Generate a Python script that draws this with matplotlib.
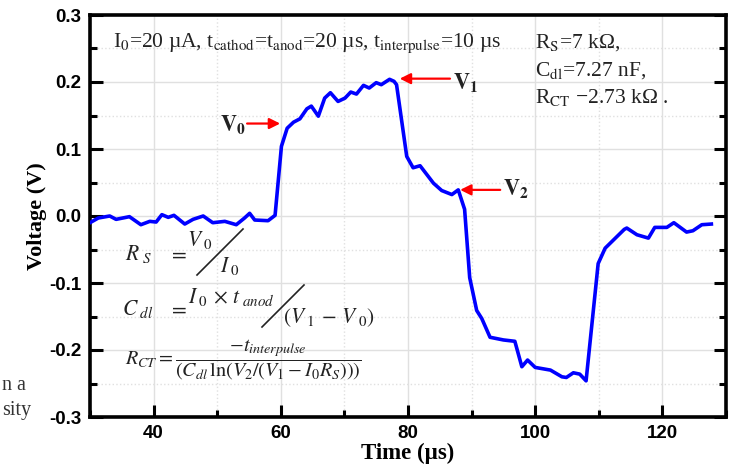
import matplotlib
matplotlib.use("Agg")
import matplotlib.pyplot as plt
from matplotlib.ticker import MultipleLocator, FormatStrFormatter
from matplotlib.lines import Line2D

plt.rcParams['mathtext.fontset'] = 'stix'

# trace
time_us = [30, 31.3, 33.1, 34.1, 36.2, 38.0, 39.4, 40.4, 41.3, 42.3, 43.2, 44.9,
           46.2, 47.8, 49.3, 51.2, 53.0, 54.3, 55.1, 55.9, 58.0, 59.1, 60.1, 61.0,
           62.0, 63.0, 64.1, 64.8, 65.9, 66.9, 67.8, 69.0, 70.1, 71.0, 71.9, 73.0,
           73.9, 75.0, 75.8, 77.1, 77.8, 78.2, 79.8, 80.8, 81.9, 84.0, 85.3, 86.9,
           87.9, 88.9, 89.7, 90.8, 91.6, 92.9, 95.0, 96.8, 97.9, 98.8, 100.0, 102.4,
           104.2, 104.9, 106.0, 107.0, 108.0, 109.9, 111.0, 112.5, 114.0, 114.4,
           116.0, 117.8, 118.8, 120.7, 121.8, 123.8, 124.8, 126.2, 127.7]
voltage = [-0.010, -0.003, 0.000, -0.005, -0.001, -0.013, -0.008, -0.009, 0.002,
           -0.002, 0.001, -0.012, -0.005, 0.000, -0.010, -0.008, -0.013, -0.003,
           0.004, -0.006, -0.007, 0.001, 0.104, 0.131, 0.140, 0.145, 0.160, 0.164,
           0.149, 0.176, 0.184, 0.171, 0.176, 0.185, 0.182, 0.195, 0.191, 0.199,
           0.196, 0.204, 0.201, 0.196, 0.089, 0.072, 0.075, 0.049, 0.038, 0.032,
           0.039, 0.010, -0.092, -0.141, -0.153, -0.181, -0.185, -0.187, -0.225,
           -0.215, -0.226, -0.230, -0.240, -0.241, -0.234, -0.236, -0.246, -0.071,
           -0.048, -0.034, -0.020, -0.018, -0.028, -0.033, -0.017, -0.017, -0.010,
           -0.024, -0.022, -0.013, -0.012]

# arrow markers: (tip time, tip voltage, tail time)
v0_arrow = (59.9, 0.138, 54.7)
v1_arrow = (78.7, 0.205, 86.6)
v2_arrow = (88.2, 0.039, 94.5)

W, H = 739, 470
fig = plt.figure(figsize=(W / 100, H / 100), dpi=100)
ax = fig.add_axes([90 / W, 1 - 417 / H, (726 - 90) / W, (417 - 15) / H])

def px(x, y):
    return x / W, 1 - y / H

ax.plot(time_us, voltage, color='#0000ff', lw=2.6, zorder=3)

ax.set_xlim(30, 130)
ax.set_ylim(-0.3, 0.3)
ax.xaxis.set_major_locator(MultipleLocator(20))
ax.xaxis.set_minor_locator(MultipleLocator(10))
ax.yaxis.set_major_locator(MultipleLocator(0.1))
ax.yaxis.set_minor_locator(MultipleLocator(0.05))
ax.yaxis.set_major_formatter(FormatStrFormatter('%.1f'))

ax.grid(which='major', color='#e0e0e0', lw=1)
ax.grid(which='minor', color='#e0e0e0', lw=1, ls=':')
ax.set_axisbelow(True)

for s in ax.spines.values():
    s.set_linewidth(2.6)
ax.tick_params(which='major', direction='in', length=9, width=2.2,
               left=True, right=True, top=False, bottom=True, pad=6)
ax.tick_params(which='minor', direction='in', length=5, width=2.2,
               left=True, right=True, top=False, bottom=True)
for lab in ax.get_xticklabels() + ax.get_yticklabels():
    lab.set_family('Liberation Sans')
    lab.set_fontweight('bold')
    lab.set_fontsize(13.5)

ax.set_xlabel('Time (µs)', family='Liberation Serif', fontweight='bold',
              fontsize=16.5, labelpad=0)
ax.set_ylabel('Voltage (V)', family='Liberation Serif', fontweight='bold',
              fontsize=16, labelpad=2)

serif = dict(family='Liberation Serif', fontsize=15.5, color='#222222')

# condition line at the top
fig.text(*px(113, 43),
         r'I$_{\mathrm{0}}$=20 µA, t$_{\mathrm{cathod}}$=t$_{\mathrm{anod}}$=20 µs, '
         r't$_{\mathrm{interpulse}}$=10 µs', va='center', ha='left', **serif)

# fitted values
fig.text(*px(535, 43), r'R$_{\mathrm{S}}$=7 kΩ,', va='center', **serif)
fig.text(*px(535, 71), r'C$_{\mathrm{dl}}$=7.27 nF,', va='center', **serif)
fig.text(*px(535, 98), r'R$_{\mathrm{CT}}$ −2.73 kΩ .', va='center', **serif)

# arrows
for tip_t, tip_v, tail_t in (v0_arrow, v1_arrow, v2_arrow):
    ax.annotate('', xy=(tip_t, tip_v), xytext=(tail_t, tip_v),
                arrowprops=dict(arrowstyle='-|>', color='red', lw=1.6,
                                mutation_scale=16, shrinkA=0, shrinkB=0))

vlab = dict(family='Liberation Serif', fontsize=16, color='#222222', va='center')
fig.text(*px(220, 125), r'$\mathbf{V}_{\mathbf{0}}$', ha='left', **vlab)
fig.text(*px(453, 82), r'$\mathbf{V}_{\mathbf{1}}$', ha='left', **vlab)
fig.text(*px(503, 188), r'$\mathbf{V}_{\mathbf{2}}$', ha='left', **vlab)

# formulas
fml = dict(fontsize=15.5, color='#222222', va='center')
fig.text(*px(125, 254), r'$R_{\ S}$', ha='left', **fml)
fig.text(*px(168, 254), r'$=$', ha='left', **fml)
fig.text(*px(187, 240), r'$V_{\ 0}$', ha='left', **fml)
fig.text(*px(220, 266), r'$I_{\ 0}$', ha='left', **fml)
fig.add_artist(Line2D([197 / W, 243 / W], [1 - 275 / H, 1 - 229 / H],
                      color='#222222', lw=1.2))

fig.text(*px(122, 309), r'$C_{\ dl}$', ha='left', **fml)
fig.text(*px(168, 309), r'$=$', ha='left', **fml)
fig.text(*px(188, 297), r'$I_{\ 0}\,\times\,t_{\ anod}$', ha='left', **fml)
fig.add_artist(Line2D([262 / W, 304 / W], [1 - 327 / H, 1 - 285 / H],
                      color='#222222', lw=1.2))
fig.text(*px(283, 318), r'$(V_{\ 1}\,-\,V_{\ 0})$', ha='left', **fml)

fig.text(*px(125, 360), r'$R_{CT}=\dfrac{-t_{interpulse}}{(C_{dl}\,\ln(V_2/(V_1-I_0R_S)))}$',
         ha='left', fontsize=14.5, color='#222222', va='center')

# clipped text from the page next to the figure
fig.text(*px(2, 385), 'n a', ha='left', va='center', family='Liberation Serif',
         fontsize=14.5, color='#333333')
fig.text(*px(2, 411), 'sity', ha='left', va='center', family='Liberation Serif',
         fontsize=14.5, color='#333333')

fig.savefig('out.png', dpi=100)
